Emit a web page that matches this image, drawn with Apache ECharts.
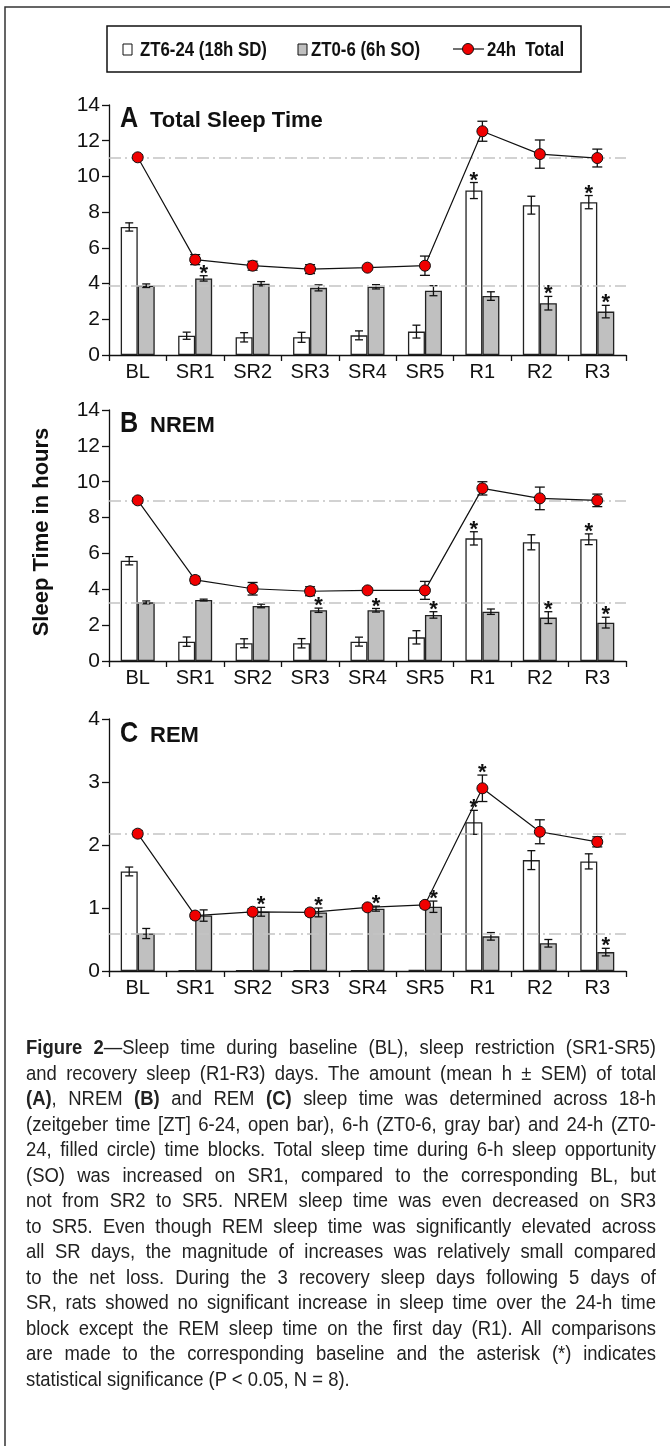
<!DOCTYPE html>
<html>
<head>
<meta charset="utf-8">
<script src="https://cdn.jsdelivr.net/npm/echarts@6/dist/echarts.min.js"></script>
<style>
  body { margin: 0; background: #fff; }
  #wrap { position: relative; width: 670px; height: 1446px; overflow: hidden; }
  #chart { position: absolute; left: 0; top: 0; width: 670px; height: 1446px; }
  #caption {
    position: absolute; left: 26px; top: 1034px; width: 700px;
    transform: scaleX(0.9); transform-origin: 0 0;
    font-family: 'Liberation Sans', Arial, sans-serif;
    font-size: 20.5px; line-height: 25.5px; color: #222;
  }
  #caption div { text-align: justify; text-align-last: justify; white-space: nowrap; }
  #caption div.last { text-align-last: left; }
</style>
</head>
<body>
<div id="wrap">
  <div id="chart"></div>
  <div id="caption">
    <div><b>Figure 2</b>—Sleep time during baseline (BL), sleep restriction (SR1-SR5)</div>
    <div>and recovery sleep (R1-R3) days. The amount (mean h ± SEM) of total</div>
    <div><b>(A)</b>, NREM <b>(B)</b> and REM <b>(C)</b> sleep time was determined across 18-h</div>
    <div>(zeitgeber time [ZT] 6-24, open bar), 6-h (ZT0-6, gray bar) and 24-h (ZT0-</div>
    <div>24, filled circle) time blocks. Total sleep time during 6-h sleep opportunity</div>
    <div>(SO) was increased on SR1, compared to the corresponding BL, but</div>
    <div>not from SR2 to SR5. NREM sleep time was even decreased on SR3</div>
    <div>to SR5. Even though REM sleep time was significantly elevated across</div>
    <div>all SR days, the magnitude of increases was relatively small compared</div>
    <div>to the net loss. During the 3 recovery sleep days following 5 days of</div>
    <div>SR, rats showed no significant increase in sleep time over the 24-h time</div>
    <div>block except the REM sleep time on the first day (R1). All comparisons</div>
    <div>are made to the corresponding baseline and the asterisk (*) indicates</div>
    <div class="last">statistical significance (P &lt; 0.05, N = 8).</div>
  </div>
</div>
<script>
// days
var categories = ['BL', 'SR1', 'SR2', 'SR3', 'SR4', 'SR5', 'R1', 'R2', 'R3'];

// A: total sleep time (h)
var totalOpen = [7.17, 1.08, 0.99, 0.99, 1.10, 1.31, 9.21, 8.39, 8.56];
var totalOpenErr = [0.23, 0.20, 0.26, 0.28, 0.25, 0.36, 0.45, 0.50, 0.37];
var totalGray = [3.88, 4.29, 3.99, 3.76, 3.82, 3.60, 3.30, 2.90, 2.43];
var totalGrayErr = [0.10, 0.15, 0.12, 0.17, 0.12, 0.28, 0.24, 0.38, 0.35];
var total24 = [11.07, 5.34, 5.00, 4.81, 4.89, 5.00, 12.53, 11.25, 11.03];
var total24Err = [0.15, 0.28, 0.25, 0.25, 0.10, 0.54, 0.56, 0.79, 0.50];
var totalOpenStar = [0, 0, 0, 0, 0, 0, 1, 0, 1];
var totalGrayStar = [0, 1, 0, 0, 0, 0, 0, 1, 1];
var total24Star = [0, 0, 0, 0, 0, 0, 0, 0, 0];

// B: NREM
var nremOpen = [5.59, 1.08, 0.99, 0.99, 1.08, 1.32, 6.84, 6.62, 6.79];
var nremOpenErr = [0.23, 0.26, 0.25, 0.26, 0.25, 0.37, 0.37, 0.42, 0.30];
var nremGray = [3.27, 3.40, 3.07, 2.83, 2.83, 2.57, 2.75, 2.42, 2.14];
var nremGrayErr = [0.08, 0.05, 0.10, 0.12, 0.10, 0.18, 0.15, 0.33, 0.30];
var nrem24 = [8.96, 4.52, 4.03, 3.89, 3.94, 3.94, 9.63, 9.07, 8.96];
var nrem24Err = [0.15, 0.20, 0.35, 0.25, 0.12, 0.50, 0.37, 0.63, 0.35];
var nremOpenStar = [0, 0, 0, 0, 0, 0, 1, 0, 1];
var nremGrayStar = [0, 0, 0, 1, 1, 1, 0, 1, 1];
var nrem24Star = [0, 0, 0, 0, 0, 0, 0, 0, 0];

// C: REM
var remOpen = [1.58, 0.01, 0.01, 0.01, 0.01, 0.02, 2.36, 1.76, 1.74];
var remOpenErr = [0.07, 0, 0, 0, 0, 0, 0.19, 0.15, 0.12];
var remGray = [0.595, 0.88, 0.94, 0.93, 0.99, 1.02, 0.55, 0.44, 0.30];
var remGrayErr = [0.08, 0.09, 0.07, 0.07, 0.04, 0.09, 0.06, 0.06, 0.06];
var rem24 = [2.18, 0.88, 0.94, 0.93, 1.01, 1.05, 2.90, 2.21, 2.05];
var rem24Err = [0.05, 0.05, 0.05, 0.05, 0.04, 0.05, 0.21, 0.19, 0.08];
var remOpenStar = [0, 0, 0, 0, 0, 0, 1, 0, 0];
var remGrayStar = [0, 0, 1, 1, 1, 1, 0, 0, 1];
var rem24Star = [0, 0, 0, 0, 0, 0, 1, 0, 0];

// y axes
var yMaxAB = 14, yStepAB = 2;
var yMaxC = 4, yStepC = 1;

var SANS = "'Liberation Sans', Arial, sans-serif";
var NARROW = 0.84; // no narrow face installed, squeeze instead
var BW = 17;

var grids = [
  { left: 109, right: 44, top: 105, height: 250 },
  { left: 109, right: 44, top: 410, height: 251 },
  { left: 109, right: 44, top: 719, height: 252 }
];

function errSeries(idx, vals, errs, dx, cap, z) {
  return {
    type: 'custom', xAxisIndex: idx, yAxisIndex: idx, z: z, silent: true,
    data: vals.map(function (v, i) { return [i, v, errs[i]]; }),
    renderItem: function (params, api) {
      var i = api.value(0), v = api.value(1), e = api.value(2);
      if (!e) return;
      var hi = api.coord([i, v + e]), lo = api.coord([i, v - e]);
      var x = hi[0] + dx;
      var st = { stroke: '#111', lineWidth: 1.3 };
      return { type: 'group', children: [
        { type: 'line', shape: { x1: x, y1: hi[1], x2: x, y2: lo[1] }, style: st },
        { type: 'line', shape: { x1: x - cap, y1: hi[1], x2: x + cap, y2: hi[1] }, style: st },
        { type: 'line', shape: { x1: x - cap, y1: lo[1], x2: x + cap, y2: lo[1] }, style: st }
      ] };
    }
  };
}

function starSeries(idx, vals, errs, flags, dx) {
  var d = [];
  vals.forEach(function (v, i) { if (flags[i]) d.push([i, v + errs[i]]); });
  return {
    type: 'custom', xAxisIndex: idx, yAxisIndex: idx, z: 6, silent: true,
    data: d,
    renderItem: function (params, api) {
      var p = api.coord([api.value(0), api.value(1)]);
      return { type: 'text', x: p[0] + dx, y: p[1] - 2,
        style: { text: '*', font: 'bold 22px ' + SANS, fill: '#111', align: 'center', verticalAlign: 'middle' } };
    }
  };
}

function panel(idx, open, openErr, gray, grayErr, tot, totErr, sOpen, sGray, sTot) {
  return [
    {
      type: 'line', xAxisIndex: idx, yAxisIndex: idx, data: [], z: 1, silent: true,
      markLine: {
        silent: true, symbol: 'none', label: { show: false },
        lineStyle: { color: '#c4c4c4', type: [12, 4, 2, 4], width: 1.6 },
        data: [{ yAxis: tot[0] }, { yAxis: gray[0] }]
      }
    },
    {
      type: 'bar', xAxisIndex: idx, yAxisIndex: idx, data: open, barWidth: BW, barGap: '0%', z: 2,
      itemStyle: { color: '#fff', borderColor: '#222', borderWidth: 1.3 }
    },
    {
      type: 'bar', xAxisIndex: idx, yAxisIndex: idx, data: gray, barWidth: BW, z: 2,
      itemStyle: { color: '#c0c0c0', borderColor: '#222', borderWidth: 1.3 }
    },
    errSeries(idx, open, openErr, -BW / 2, 4, 3),
    errSeries(idx, gray, grayErr, BW / 2, 4, 3),
    errSeries(idx, tot, totErr, 0, 5, 4),
    {
      type: 'line', xAxisIndex: idx, yAxisIndex: idx, data: tot, z: 5,
      symbol: 'circle', symbolSize: 11,
      lineStyle: { color: '#111', width: 1.2 },
      itemStyle: { color: '#f00000', borderColor: '#111', borderWidth: 1 }
    },
    starSeries(idx, open, openErr, sOpen, -BW / 2),
    starSeries(idx, gray, grayErr, sGray, BW / 2),
    starSeries(idx, tot, totErr, sTot, 0)
  ];
}

function xAxis(idx) {
  return {
    type: 'category', gridIndex: idx, data: categories,
    axisLine: { lineStyle: { color: '#111', width: 1.3 } },
    axisTick: { show: true, length: 6, lineStyle: { color: '#111', width: 1.3 } },
    axisLabel: { color: '#111', fontFamily: SANS, fontSize: 20, margin: 7 }
  };
}

function yAxis(idx, max, step) {
  return {
    type: 'value', gridIndex: idx, min: 0, max: max, interval: step,
    splitLine: { show: false },
    axisLine: { show: true, lineStyle: { color: '#111', width: 1.3 } },
    axisTick: { show: true, length: 7, lineStyle: { color: '#111', width: 1.3 } },
    axisLabel: { color: '#111', fontFamily: SANS, fontSize: 21, margin: 9 }
  };
}

function title(letter, text, y) {
  return [
    { type: 'text', x: 120, y: y, scaleX: NARROW, style: { text: letter, font: 'bold 30px ' + SANS, fill: '#111', verticalAlign: 'middle' } },
    { type: 'text', x: 150, y: y + 2, style: { text: text, font: 'bold 22px ' + SANS, fill: '#111', verticalAlign: 'middle' } }
  ];
}

function legendText(x, text) {
  return { type: 'text', x: x, y: 50, scaleX: NARROW,
    style: { text: text, font: 'bold 20px ' + SANS, fill: '#111', verticalAlign: 'middle' } };
}

var graphic = [
  { type: 'rect', shape: { x: 5, y: 7, width: 800, height: 1600 }, style: { fill: 'none', stroke: '#333', lineWidth: 1.5 }, z: 0 },
  { type: 'rect', shape: { x: 107, y: 26, width: 474, height: 46 }, style: { fill: '#fff', stroke: '#111', lineWidth: 1.5 } },
  { type: 'rect', shape: { x: 123, y: 44, width: 9, height: 11 }, style: { fill: '#fff', stroke: '#111', lineWidth: 1 } },
  legendText(140, 'ZT6-24 (18h SD)'),
  { type: 'rect', shape: { x: 298, y: 44, width: 9, height: 11 }, style: { fill: '#c0c0c0', stroke: '#111', lineWidth: 1 } },
  legendText(311, 'ZT0-6 (6h SO)'),
  { type: 'line', shape: { x1: 453, y1: 49, x2: 484, y2: 49 }, style: { stroke: '#111', lineWidth: 1.2 } },
  { type: 'circle', shape: { cx: 468, cy: 49, r: 5.5 }, style: { fill: '#f00000', stroke: '#111', lineWidth: 1 } },
  legendText(487, '24h  Total'),
  { type: 'text', x: 42, y: 532, rotation: Math.PI / 2,
    style: { text: 'Sleep Time in hours', font: 'bold 22px ' + SANS, fill: '#111', align: 'center', verticalAlign: 'middle' } }
].concat(title('A', 'Total Sleep Time', 119), title('B', 'NREM', 424), title('C', 'REM', 734));

var chart = echarts.init(document.getElementById('chart'));
chart.setOption({
  backgroundColor: '#fff',
  animation: false,
  grid: grids,
  xAxis: [xAxis(0), xAxis(1), xAxis(2)],
  yAxis: [yAxis(0, yMaxAB, yStepAB), yAxis(1, yMaxAB, yStepAB), yAxis(2, yMaxC, yStepC)],
  graphic: graphic,
  series: [].concat(
    panel(0, totalOpen, totalOpenErr, totalGray, totalGrayErr, total24, total24Err, totalOpenStar, totalGrayStar, total24Star),
    panel(1, nremOpen, nremOpenErr, nremGray, nremGrayErr, nrem24, nrem24Err, nremOpenStar, nremGrayStar, nrem24Star),
    panel(2, remOpen, remOpenErr, remGray, remGrayErr, rem24, rem24Err, remOpenStar, remGrayStar, rem24Star)
  )
});
</script>
</body>
</html>
